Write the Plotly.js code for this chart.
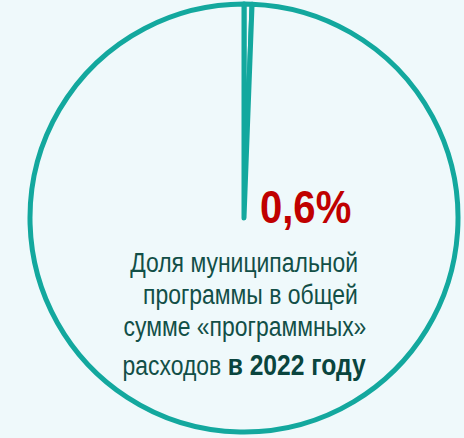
<!DOCTYPE html>
<html>
<head>
<meta charset="utf-8">
<script src="https://cdn.plot.ly/plotly-3.0.1.min.js"></script>
<style>
html,body{margin:0;padding:0;background:#eff9fb;}
#chart{width:464px;height:438px;}
</style>
</head>
<body>
<div id="chart"></div>
<script>
const labels = ["Муниципальная программа", "Прочие программы"];
const values = [0.6, 99.4];
const shareText = "0,6%";
const captionLines = [
  "Доля муниципальной",
  "программы в общей",
  "сумме «программных»",
  "расходов <b><span style=\"font-size:29px\">в 2022 году</span></b>"
];

const W = 464, H = 438;
const bg = "#eff9fb";
const teal = "#13a89e";
const fontFam = "'Liberation Sans', Arial, sans-serif";
const narrow = 0.85;
const narrowPct = 0.87;

const cx = 244, cy = 218, r = 214;
const data = [{
  type: "pie",
  labels: labels,
  values: values,
  sort: false,
  direction: "clockwise",
  rotation: 0,
  textinfo: "none",
  hoverinfo: "label+percent",
  marker: {colors: [bg, bg], line: {color: teal, width: 5}},
  domain: {x: [(cx - r) / W, (cx + r) / W], y: [(H - cy - r) / H, (H - cy + r) / H]},
  showlegend: false
}];

const ann = [{
  text: "<b>" + shareText + "</b>",
  xref: "paper", yref: "paper",
  x: 258 / W, y: 1 - 207 / H,
  xanchor: "left", yanchor: "middle",
  showarrow: false,
  font: {family: fontFam, size: 46, color: "#c00000"}
}];
const lineY = [263, 295, 327, 365];
const lineX = [243.5, 250, 244.5, 243.5];
captionLines.forEach((t, i) => {
  ann.push({
    text: t,
    xref: "paper", yref: "paper",
    x: lineX[i] / W, y: 1 - lineY[i] / H,
    xanchor: "center", yanchor: "middle",
    showarrow: false,
    font: {family: fontFam, size: 27, color: "#124f47"}
  });
});

const layout = {
  width: W, height: H,
  margin: {l: 0, r: 0, t: 0, b: 0},
  paper_bgcolor: bg,
  plot_bgcolor: bg,
  annotations: ann
};
Plotly.newPlot("chart", data, layout, {displayModeBar: false, staticPlot: true}).then(function (gd) {
  // emulate a narrow (condensed) face by horizontal scaling of the annotation texts
  const texts = gd.querySelectorAll(".annotation-text");
  texts.forEach(function (el, idx) {
    const bb = el.getBBox();
    const px = idx === 0 ? bb.x : bb.x + bb.width / 2;
    const s = idx === 0 ? narrowPct : narrow;
    const prev = el.getAttribute("transform") || "";
    el.setAttribute("transform", prev + " translate(" + px + ",0) scale(" + s + ",1) translate(" + (-px) + ",0)");
    if (idx > 0) {
      el.querySelectorAll("tspan").forEach(function (t) {
        if ((t.getAttribute("style") || "").indexOf("bold") >= 0) {
          t.style.fill = "#0a453e";
        }
      });
    }
  });
});
</script>
</body>
</html>
